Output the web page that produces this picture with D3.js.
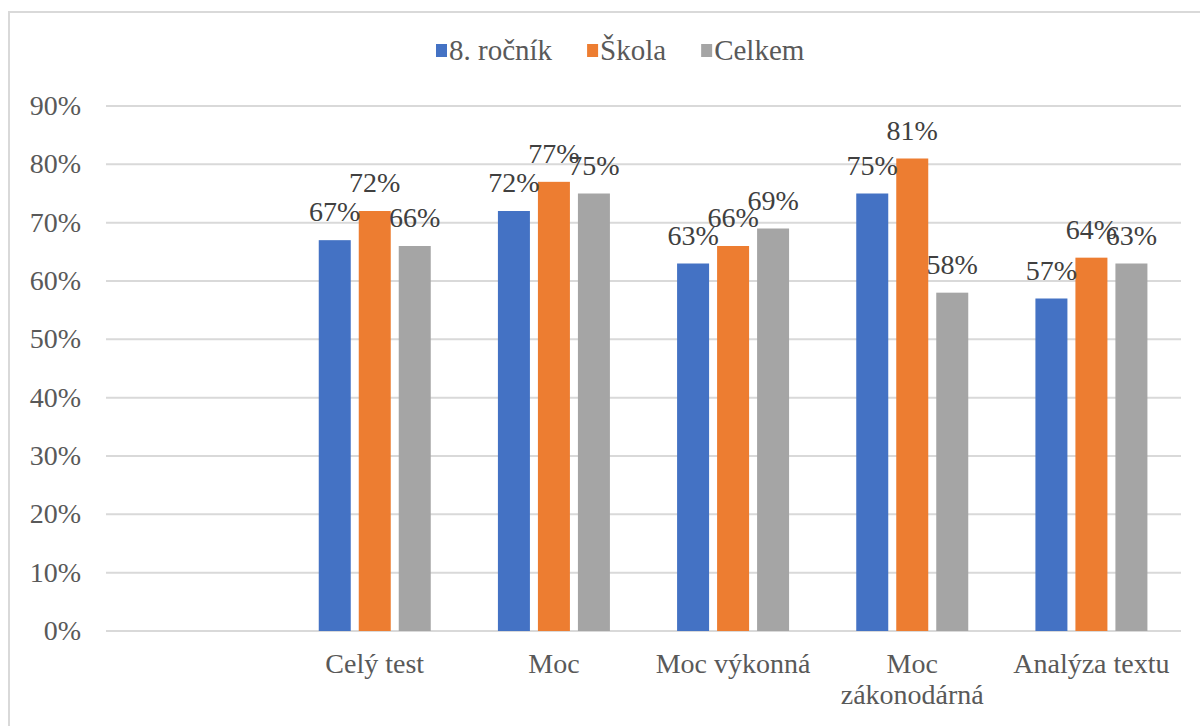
<!DOCTYPE html>
<html>
<head>
<meta charset="utf-8">
<script src="https://cdn.jsdelivr.net/npm/d3@7"></script>
<style>
  body { margin: 0; background: #fff; }
</style>
</head>
<body>
<div id="chart"></div>
<script>
const categories = ['', 'Celý test', 'Moc', 'Moc výkonná', 'Moc zákonodárná', 'Analýza textu'];
const seriesNames = ['8. ročník', 'Škola', 'Celkem'];
const rocnik = [null, 0.67, 0.72, 0.63, 0.75, 0.57];
const skola  = [null, 0.72, 0.77, 0.66, 0.81, 0.64];
const celkem = [null, 0.66, 0.75, 0.69, 0.58, 0.63];
const yTicks = [0, 0.1, 0.2, 0.3, 0.4, 0.5, 0.6, 0.7, 0.8, 0.9];
const colors = ['#4472C4', '#ED7D31', '#A5A5A5'];

const width = 1200, height = 726;
const margin = {top: 106, right: 19, bottom: 95, left: 106};
const fmt = d3.format('.0%');
const serif = '"Liberation Serif"';

const svg = d3.select('#chart').append('svg')
  .attr('width', width)
  .attr('height', height);

// chart frame (right/bottom edges fall outside the picture)
svg.append('rect')
  .attr('x', 9).attr('y', 12)
  .attr('width', 1200).attr('height', 800)
  .attr('fill', 'none')
  .attr('stroke', '#d9d9d9')
  .attr('stroke-width', 2);

const values = [rocnik, skola, celkem];
const rows = categories.map((c, i) => ({cat: c, vals: values.map(s => s[i])}));

const x0 = d3.scaleBand()
  .domain(categories)
  .range([margin.left, width - margin.right]);

const x1 = d3.scaleBand()
  .domain(seriesNames)
  .range([0, 112])
  .paddingInner(0.2);

const y = d3.scaleLinear()
  .domain([0, 0.9])
  .range([height - margin.bottom, margin.top]);

// gridlines
svg.append('g')
  .selectAll('line')
  .data(yTicks)
  .join('line')
  .attr('x1', margin.left)
  .attr('x2', width - margin.right)
  .attr('y1', d => y(d))
  .attr('y2', d => y(d))
  .attr('stroke', '#d9d9d9')
  .attr('stroke-width', 2);

// y tick labels
svg.append('g')
  .selectAll('text')
  .data(yTicks)
  .join('text')
  .attr('x', 81)
  .attr('y', d => y(d) + 9)
  .attr('text-anchor', 'end')
  .attr('fill', '#595959')
  .attr('font-size', 28)
  .style('font-family', serif)
  .text(d => fmt(d));

// bars
const groups = svg.append('g')
  .selectAll('g')
  .data(rows)
  .join('g')
  .attr('transform', d => `translate(${x0(d.cat) + (x0.bandwidth() - 112) / 2},0)`);

const items = d => d.vals.map((v, i) => ({v, i})).filter(e => e.v !== null);

groups.selectAll('rect')
  .data(items)
  .join('rect')
  .attr('x', e => x1(seriesNames[e.i]))
  .attr('width', x1.bandwidth())
  .attr('y', e => y(e.v))
  .attr('height', e => y(0) - y(e.v))
  .attr('fill', e => colors[e.i]);

// data labels
groups.selectAll('text')
  .data(items)
  .join('text')
  .attr('x', e => x1(seriesNames[e.i]) + x1.bandwidth() / 2)
  .attr('y', e => y(e.v) - 19)
  .attr('text-anchor', 'middle')
  .attr('fill', '#404040')
  .attr('font-size', 28)
  .style('font-family', serif)
  .text(e => fmt(e.v));

// category labels
const catLines = {'Moc zákonodárná': ['Moc', 'zákonodárná']};
svg.append('g')
  .selectAll('text')
  .data(categories.filter(c => c))
  .join('text')
  .attr('y', 673)
  .attr('text-anchor', 'middle')
  .attr('fill', '#595959')
  .attr('font-size', 28)
  .style('font-family', serif)
  .each(function(c) {
    const cx = x0(c) + x0.bandwidth() / 2;
    d3.select(this).selectAll('tspan')
      .data(catLines[c] || [c])
      .join('tspan')
      .attr('x', cx)
      .attr('dy', (l, i) => i === 0 ? 0 : 31)
      .text(l => l);
  });

// legend
const legend = svg.append('g');
const gap = 35;
let lx = 0;
seriesNames.forEach((name, i) => {
  const item = legend.append('g').attr('transform', `translate(${lx},0)`);
  item.append('rect')
    .attr('x', 0).attr('y', -7)
    .attr('width', 11).attr('height', 13)
    .attr('fill', colors[i]);
  const t = item.append('text')
    .attr('x', 13)
    .attr('y', 9)
    .attr('fill', '#595959')
    .attr('font-size', 29)
    .style('font-family', serif)
    .text(name);
  lx += 13 + t.node().getComputedTextLength() + gap;
});
legend.attr('transform', `translate(436,51)`);
</script>
</body>
</html>
